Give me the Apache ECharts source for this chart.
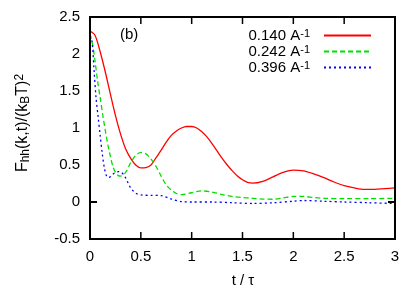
<!DOCTYPE html>
<html><head><meta charset="utf-8">
<script src="https://cdn.jsdelivr.net/npm/echarts@6/dist/echarts.min.js"></script>
<style>html,body{margin:0;padding:0;background:#fff}#c{width:409px;height:292px}</style>
</head><body><div id="c"></div>
<script>
var seriesNames = ['0.140', '0.242', '0.396'];
var tRed = [0, 0.05, 0.1, 0.15, 0.2, 0.25, 0.3, 0.35, 0.4, 0.45, 0.5, 0.55, 0.6, 0.65, 0.7, 0.75, 0.8, 0.85, 0.9, 0.95, 1.0, 1.05, 1.1, 1.15, 1.2, 1.25, 1.3, 1.35, 1.4, 1.45, 1.5, 1.55, 1.6, 1.7, 1.8, 1.9, 2.0, 2.1, 2.2, 2.3, 2.4, 2.5, 2.6, 2.7, 2.8, 2.9, 3.0];
var yRed = [2.31, 2.25, 2.03, 1.76, 1.46, 1.17, 0.92, 0.72, 0.59, 0.50, 0.46, 0.465, 0.50, 0.60, 0.70, 0.81, 0.90, 0.96, 1.00, 1.02, 1.02, 1.00, 0.95, 0.88, 0.79, 0.69, 0.59, 0.50, 0.42, 0.35, 0.30, 0.265, 0.255, 0.28, 0.34, 0.40, 0.43, 0.42, 0.38, 0.33, 0.27, 0.22, 0.19, 0.17, 0.17, 0.18, 0.19];
var tGreen = [0, 0.025, 0.05, 0.075, 0.1, 0.125, 0.15, 0.175, 0.2, 0.225, 0.25, 0.275, 0.3, 0.35, 0.4, 0.45, 0.5, 0.55, 0.6, 0.65, 0.7, 0.75, 0.8, 0.85, 0.9, 1.0, 1.1, 1.2, 1.3, 1.4, 1.5, 1.6, 1.7, 1.8, 1.9, 2.0, 2.1, 2.2, 2.3, 2.5, 2.75, 3.0];
var yGreen = [2.27, 2.13, 1.90, 1.63, 1.41, 1.18, 0.97, 0.78, 0.62, 0.48, 0.40, 0.36, 0.35, 0.40, 0.53, 0.63, 0.67, 0.65, 0.58, 0.48, 0.35, 0.23, 0.16, 0.115, 0.10, 0.125, 0.15, 0.135, 0.10, 0.075, 0.06, 0.05, 0.04, 0.037, 0.055, 0.075, 0.075, 0.06, 0.05, 0.045, 0.045, 0.05];
var tBlue = [0, 0.02, 0.04, 0.06, 0.08, 0.1, 0.12, 0.14, 0.16, 0.18, 0.2, 0.22, 0.25, 0.28, 0.31, 0.34, 0.37, 0.4, 0.45, 0.5, 0.6, 0.7, 0.8, 0.9, 1.0, 1.2, 1.4, 1.6, 1.8, 2.0, 2.1, 2.3, 2.5, 2.75, 3.0];
var yBlue = [2.25, 2.17, 1.78, 1.40, 1.15, 0.90, 0.66, 0.47, 0.36, 0.33, 0.34, 0.37, 0.40, 0.41, 0.40, 0.35, 0.27, 0.19, 0.12, 0.095, 0.09, 0.085, 0.04, 0.005, 0.0, 0.0, -0.01, -0.02, -0.01, 0.01, 0.02, 0.01, 0.0, -0.01, -0.02];
var xTickVals = [0, 0.5, 1, 1.5, 2, 2.5, 3];
var yTickVals = [-0.5, 0, 0.5, 1, 1.5, 2, 2.5];
var xTicks = {min: 0, max: 3, interval: 0.5};
var yTicks = {min: -0.5, max: 2.5, interval: 0.5};

function pairs(t, y) { return t.map(function (v, i) { return [v, y[i]]; }); }
var FONT = 'Liberation Sans, Arial, sans-serif';
var TL = 7;
function fmt(v) { return String(v); }
function axisLine() { return {show: true, onZero: false, lineStyle: {color: '#000', width: 2}}; }

// frame and mirrored inside ticks drawn by custom series through the axes' own scales
function frameItem(params, api) {
  var a = api.coord([xTicks.min, yTicks.max]);
  var b = api.coord([xTicks.max, yTicks.min]);
  return {type: 'rect', shape: {x: a[0], y: a[1], width: b[0] - a[0], height: b[1] - a[1]},
          style: {fill: 'none', stroke: '#000', lineWidth: 2}, silent: true};
}
function xTickItem(params, api) {
  var lo = api.coord([api.value(0), yTicks.min]);
  var hi = api.coord([api.value(0), yTicks.max]);
  var st = {stroke: '#000', lineWidth: 1.5, fill: 'none'};
  return {type: 'group', silent: true, children: [
    {type: 'line', shape: {x1: lo[0], y1: lo[1], x2: lo[0], y2: lo[1] - TL}, style: st},
    {type: 'line', shape: {x1: hi[0], y1: hi[1], x2: hi[0], y2: hi[1] + TL}, style: st}
  ]};
}
function yTickItem(params, api) {
  var lo = api.coord([xTicks.min, api.value(0)]);
  var hi = api.coord([xTicks.max, api.value(0)]);
  var st = {stroke: '#000', lineWidth: 1.5, fill: 'none'};
  return {type: 'group', silent: true, children: [
    {type: 'line', shape: {x1: lo[0], y1: lo[1], x2: lo[0] + TL, y2: lo[1]}, style: st},
    {type: 'line', shape: {x1: hi[0], y1: hi[1], x2: hi[0] - TL, y2: hi[1]}, style: st}
  ]};
}

var chart = echarts.init(document.getElementById('c'));
chart.setOption({
  animation: false,
  grid: {left: 90, right: 14, top: 17, bottom: 53, show: true, borderColor: '#000', borderWidth: 2},
  legend: {
    orient: 'vertical', right: 32, top: 23, align: 'right',
    itemWidth: 47, itemHeight: 14, itemGap: 1,
    itemStyle: {color: 'transparent', borderWidth: 0, opacity: 0},
    data: seriesNames,
    textStyle: {
      fontFamily: FONT, fontSize: 15, color: '#000',
      rich: {
        m: {fontFamily: FONT, fontSize: 15, color: '#000'},
        s: {fontFamily: FONT, fontSize: 11, color: '#000', verticalAlign: 'top', padding: [0, 9, 4, 0]}
      }
    },
    formatter: function (n) { return '{m|' + n + ' A}{s|-1}'; }
  },
  xAxis: [
    {type: 'value', min: xTicks.min, max: xTicks.max, interval: xTicks.interval, position: 'bottom',
     axisLine: axisLine(), axisTick: {show: false}, splitLine: {show: false},
     axisLabel: {fontFamily: FONT, fontSize: 15, color: '#000', margin: 10, formatter: fmt}}
  ],
  yAxis: [
    {type: 'value', min: yTicks.min, max: yTicks.max, interval: yTicks.interval, position: 'left',
     axisLine: axisLine(), axisTick: {show: false}, splitLine: {show: false},
     axisLabel: {fontFamily: FONT, fontSize: 15, color: '#000', margin: 10, formatter: fmt}}
  ],
  graphic: [
    {type: 'text', left: 120, top: 27, style: {text: '(b)', font: '15px ' + FONT, fill: '#000'}},
    {type: 'text', x: 243, y: 281, style: {text: 't / τ', font: '15px ' + FONT, fill: '#000', align: 'center', verticalAlign: 'middle'}},
    {type: 'text', x: 23, y: 123, rotation: Math.PI / 2,
     style: {text: '{m|F}{sub|hh}{m|(k,t)/(k}{sub|B}{m|T)}{sup|2}', fill: '#000', align: 'center', verticalAlign: 'middle',
       font: '16px ' + FONT,
       rich: {
         m: {fontFamily: FONT, fontSize: 16, fill: '#000', color: '#000'},
         sub: {fontFamily: FONT, fontSize: 12, fill: '#000', color: '#000', verticalAlign: 'bottom', padding: [6, 0, 0, 0]},
         sup: {fontFamily: FONT, fontSize: 12, fill: '#000', color: '#000', verticalAlign: 'top', padding: [0, 0, 6, 0]}
       }}}
  ],
  series: [
    {name: seriesNames[0], type: 'line', data: pairs(tRed, yRed), smooth: 0.3, showSymbol: false, symbol: 'none',
     lineStyle: {color: '#ff0000', width: 1.3, type: 'solid'}, itemStyle: {color: '#ff0000'}},
    {name: seriesNames[1], type: 'line', data: pairs(tGreen, yGreen), smooth: 0.3, showSymbol: false, symbol: 'none',
     lineStyle: {color: '#00e000', width: 1.3, type: [5, 3]}, itemStyle: {color: '#00e000'}},
    {name: seriesNames[2], type: 'line', data: pairs(tBlue, yBlue), smooth: 0.3, showSymbol: false, symbol: 'none',
     lineStyle: {color: '#0000ff', width: 1.3, type: [2, 3]}, itemStyle: {color: '#0000ff'}},
    {name: 'frame', type: 'custom', data: [[xTicks.min, yTicks.min]], renderItem: frameItem, clip: false, silent: true, z: 6},
    {name: 'xticks', type: 'custom', data: xTickVals.map(function (v) { return [v, yTicks.min]; }), renderItem: xTickItem, clip: false, silent: true, z: 6},
    {name: 'yticks', type: 'custom', data: yTickVals.map(function (v) { return [xTicks.min, v]; }), renderItem: yTickItem, clip: false, silent: true, z: 6}
  ]
});
</script></body></html>
